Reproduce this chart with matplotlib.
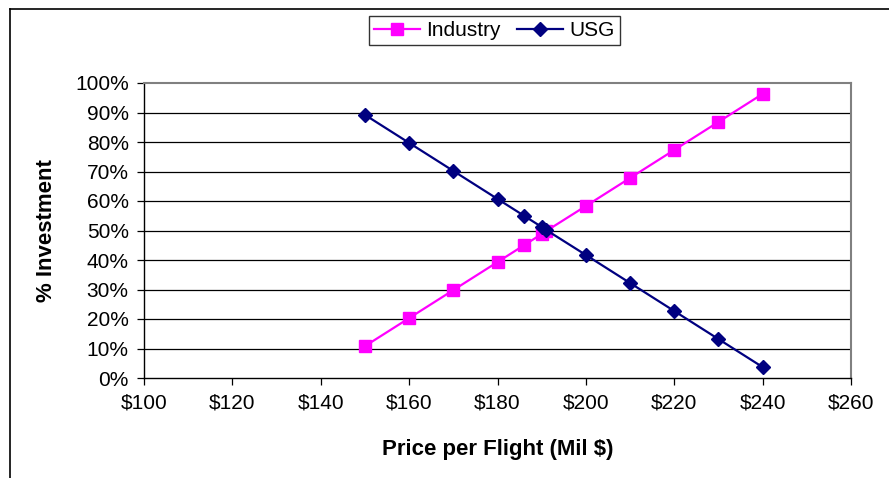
import matplotlib
matplotlib.use("Agg")
import matplotlib.pyplot as plt
from matplotlib.lines import Line2D
from matplotlib.ticker import FuncFormatter

plt.rcParams['font.family'] = ['Liberation Sans', 'DejaVu Sans']

# data
price = [150, 160, 170, 180, 186, 190, 191, 200, 210, 220, 230, 240]
industry = [10.8, 20.3, 29.8, 39.3, 45.0, 48.8, 49.8, 58.3, 67.8, 77.3, 86.8, 96.3]
usg = [89.2, 79.7, 70.2, 60.7, 55.0, 51.2, 50.2, 41.7, 32.2, 22.7, 13.2, 3.7]
x_ticks = [100, 120, 140, 160, 180, 200, 220, 240, 260]
y_ticks = [0, 10, 20, 30, 40, 50, 60, 70, 80, 90, 100]

fig = plt.figure(figsize=(8.89, 4.78), dpi=100)
ax = fig.add_axes([144 / 889, 1 - 378 / 478, (851 - 144) / 889, (378 - 83) / 478])

for y in y_ticks[1:-1]:
    ax.axhline(y, color='black', lw=0.9, zorder=1)

ax.plot(price, industry, color='#FF00FF', lw=1.6, marker='s', markersize=8,
        label='Industry', zorder=3)
ax.plot(price, usg, color='#000080', lw=1.6, marker='D', markersize=7,
        label='USG', zorder=3)

ax.set_xlim(100, 260)
ax.set_ylim(0, 100)
ax.set_xticks(x_ticks)
ax.set_yticks(y_ticks)
ax.xaxis.set_major_formatter(FuncFormatter(lambda v, p: f'${v:.0f}'))
ax.yaxis.set_major_formatter(FuncFormatter(lambda v, p: f'{v:.0f}%'))
ax.tick_params(axis='both', direction='out', length=5, width=0.9, labelsize=15,
               color='black', pad=6)

for side in ['left', 'bottom']:
    ax.spines[side].set_color('black')
    ax.spines[side].set_linewidth(1.0)
for side in ['top', 'right']:
    ax.spines[side].set_color('#808080')
    ax.spines[side].set_linewidth(1.5)

ax.set_xlabel('Price per Flight (Mil $)', fontsize=16, fontweight='bold', labelpad=19)
ax.set_ylabel('% Investment', fontsize=16, fontweight='bold', labelpad=13)

leg = fig.legend(loc='center', bbox_to_anchor=(494 / 889, 1 - 30.5 / 478), ncol=2,
                 fontsize=15, frameon=True, fancybox=False, edgecolor='black',
                 handlelength=2.2, handletextpad=0.3, columnspacing=0.8,
                 borderpad=0.25)
leg.get_frame().set_linewidth(1.0)

# outer chart border (cropped on the right and bottom)
fig.add_artist(Line2D([10 / 889, 10 / 889], [0, 1 - 9 / 478], color='black', lw=1.2,
                      transform=fig.transFigure))
fig.add_artist(Line2D([10 / 889, 1], [1 - 9 / 478, 1 - 9 / 478], color='black', lw=1.2,
                      transform=fig.transFigure))

fig.savefig('out.png', dpi=100)
